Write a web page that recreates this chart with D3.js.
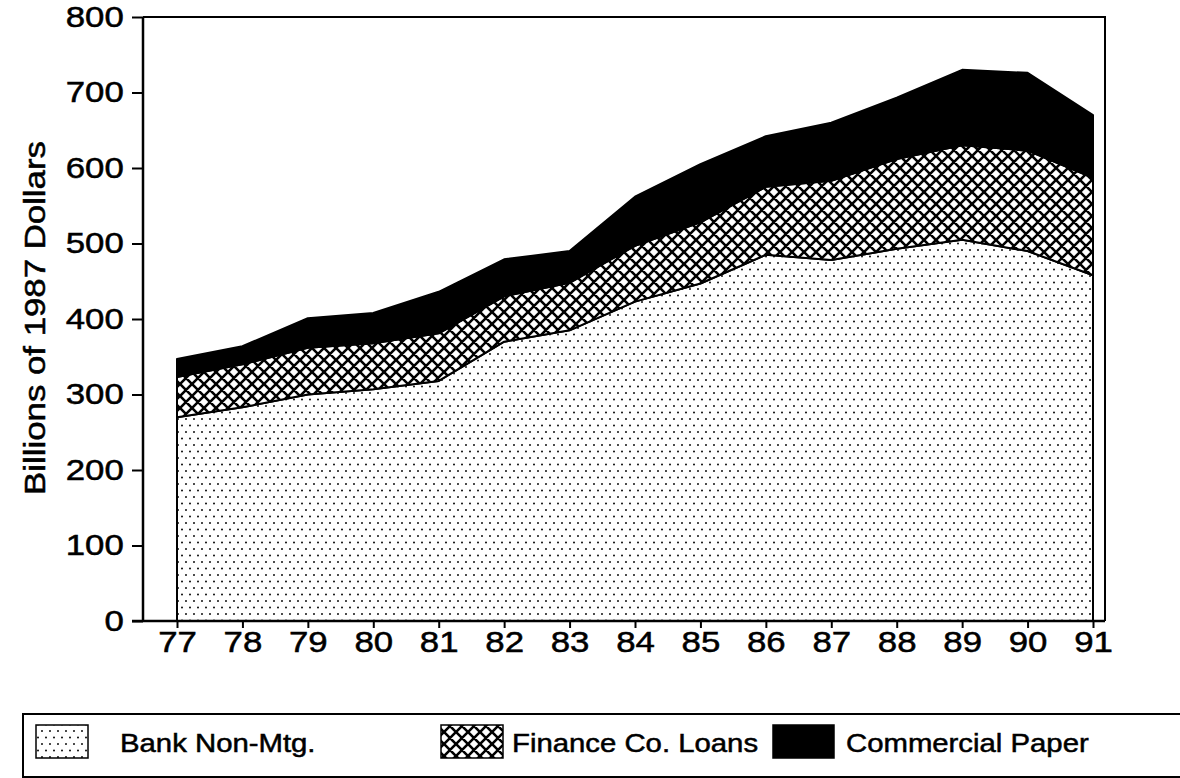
<!DOCTYPE html>
<html>
<head>
<meta charset="utf-8">
<script src="https://cdn.jsdelivr.net/npm/d3@7"></script>
<style>
	body { margin: 0; background: #fff; }
	text { font-family: "Liberation Sans", Arial, sans-serif; fill: #000; stroke: #000; stroke-width: 0.5px; }
</style>
</head>
<body>
<svg id="chart" width="1180" height="778"></svg>
<script>

// data (billions of 1987 dollars, year end)
var years   = [77, 78, 79, 80, 81, 82, 83, 84, 85, 86, 87, 88, 89, 90, 91];
var bank    = [270, 283, 300, 307, 318, 370, 385, 423, 447, 485, 478, 493, 505, 490, 458];
var finance = [53, 57, 62, 61, 63, 60, 63, 74, 81, 90, 105, 119, 125, 133, 129];
var paper   = [24, 24, 39, 40, 55, 49, 42, 65, 77, 67, 77, 81, 100, 103, 83];

var seriesKeys  = ["bank", "finance", "paper"];
var seriesNames = ["Bank Non-Mtg.", "Finance Co. Loans", "Commercial Paper"];
var yTicks = [0, 100, 200, 300, 400, 500, 600, 700, 800];
var yTitle = "Billions of 1987 Dollars";

// table for d3.stack
var table = years.map(function(y, i) {
	return { year: y, bank: bank[i], finance: finance[i], paper: paper[i] };
});

// chart frame
var frame = { left: 143, right: 1105, top: 17, bottom: 621 };
var fontSize = 29;
var legendSize = 25.5;
var stretch = 1.2; // the lettering is wider than Arial
var legendStretch = 1.15;

var svg = d3.select("#chart");

svg.append("rect")
	.attr("width", 1180).attr("height", 778)
	.attr("fill", "#fff");

// patterns
var defs = svg.append("defs");

var dots = defs.append("pattern")
	.attr("id", "dots")
	.attr("patternUnits", "userSpaceOnUse")
	.attr("width", 8).attr("height", 13);
dots.append("rect").attr("width", 8).attr("height", 13).attr("fill", "#fff");
dots.append("circle").attr("cx", 2).attr("cy", 3).attr("r", 0.95).attr("fill", "#000");
dots.append("circle").attr("cx", 6).attr("cy", 9.5).attr("r", 0.95).attr("fill", "#000");

var hatch = defs.append("pattern")
	.attr("id", "hatch")
	.attr("patternUnits", "userSpaceOnUse")
	.attr("width", 12).attr("height", 12);
hatch.append("rect").attr("width", 12).attr("height", 12).attr("fill", "#fff");
hatch.append("path")
	.attr("d", "M-3,-3L15,15M-3,15L15,-3M-3,9L3,15M9,-3L15,3M-3,3L3,-3M9,15L15,9")
	.attr("stroke", "#000").attr("stroke-width", 2.6);

var fills = { bank: "url(#dots)", finance: "url(#hatch)", paper: "#000" };

// scales
var x = d3.scaleLinear().domain([77, 91]).range([177, 1093]);
var y = d3.scaleLinear().domain([0, 800]).range([frame.bottom, frame.top]);

// stacked areas
var stack = d3.stack().keys(seriesKeys);
var layers = stack(table);

var area = d3.area()
	.x(function(d) { return x(d.data.year); })
	.y0(function(d) { return y(d[0]); })
	.y1(function(d) { return y(d[1]); });

svg.append("g")
	.selectAll("path")
	.data(layers)
	.enter().append("path")
	.attr("d", area)
	.attr("fill", function(d) { return fills[d.key]; })
	.attr("stroke", "#000")
	.attr("stroke-width", 2)
	.attr("stroke-linejoin", "round");

// frame (top and right sides)
svg.append("path")
	.attr("d", "M" + frame.left + "," + frame.top + "H" + frame.right + "V" + frame.bottom)
	.attr("fill", "none")
	.attr("stroke", "#000")
	.attr("stroke-width", 2);

// axes
var yAxis = d3.axisLeft(y)
	.tickValues(yTicks)
	.tickSize(11)
	.tickPadding(5);

var gy = svg.append("g")
	.attr("transform", "translate(" + frame.left + ",0)")
	.call(yAxis);

var xAxis = d3.axisBottom(x)
	.tickValues(years)
	.tickSize(7)
	.tickPadding(3);

var gx = svg.append("g")
	.attr("transform", "translate(0," + frame.bottom + ")")
	.call(xAxis);

[gx, gy].forEach(function(g) {
	g.select(".domain").attr("stroke", "#000").attr("stroke-width", 2.5);
	g.selectAll(".tick line").attr("stroke", "#000").attr("stroke-width", 2);
	g.selectAll(".tick text")
		.attr("font-family", "Liberation Sans, Arial, sans-serif")
		.attr("font-size", fontSize)
		.attr("fill", "#000")
		.attr("transform", "scale(" + stretch + ",1)");
});
// x axis runs out to the frame
gx.select(".domain").attr("d", "M" + (frame.left - 11) + ",0H" + frame.right);
gy.select(".domain").attr("d", "M0," + frame.bottom + "V" + frame.top);

// y title
svg.append("text")
	.attr("transform", "translate(45,318) rotate(-90) scale(" + stretch + ",1)")
	.attr("text-anchor", "middle")
	.attr("font-size", fontSize)
	.text(yTitle);

// legend
var legend = svg.append("g");
legend.append("rect")
	.attr("x", 23).attr("y", 714)
	.attr("width", 1200).attr("height", 63)
	.attr("fill", "none")
	.attr("stroke", "#000")
	.attr("stroke-width", 2);

var legendItems = [
	{ key: "bank",    sx: 36,  sw: 52, tx: 120 },
	{ key: "finance", sx: 441, sw: 62, tx: 512 },
	{ key: "paper",   sx: 773, sw: 61, tx: 846 }
];

legendItems.forEach(function(item, i) {
	legend.append("rect")
		.attr("x", item.sx).attr("y", 725)
		.attr("width", item.sw).attr("height", 33)
		.attr("fill", fills[item.key])
		.attr("stroke", "#000")
		.attr("stroke-width", 1.5);
	legend.append("text")
		.attr("transform", "translate(" + item.tx + ",752) scale(" + legendStretch + ",1)")
		.attr("font-size", legendSize)
		.text(seriesNames[i]);
});

</script>
</body>
</html>
